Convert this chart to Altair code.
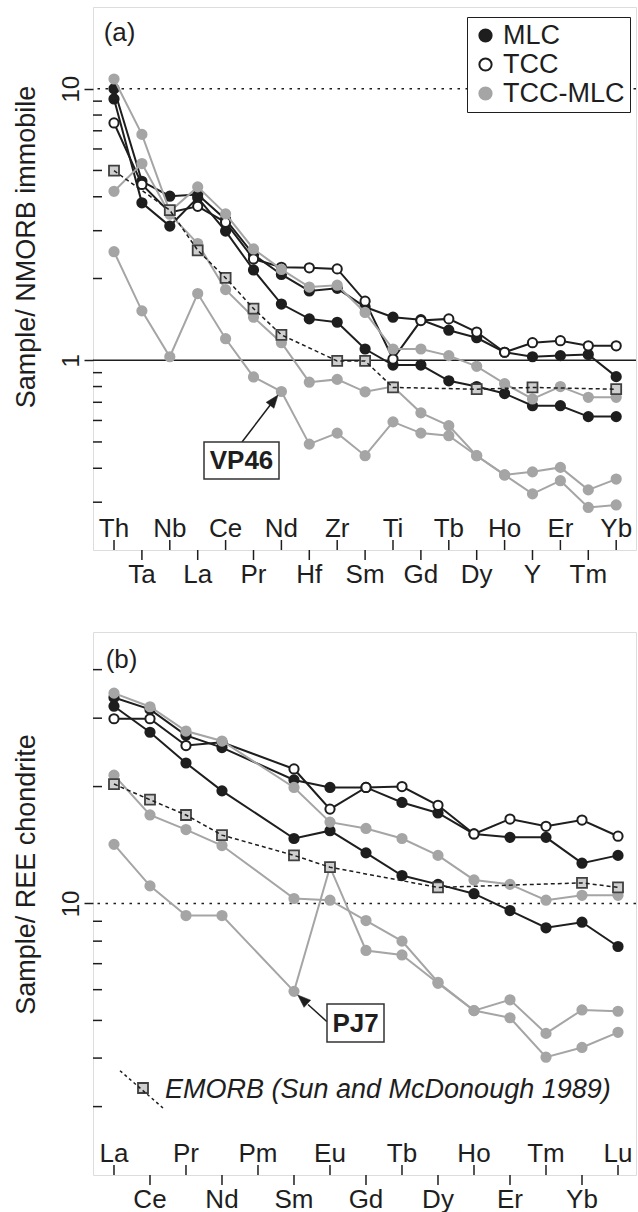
import altair as alt
import pandas as pd

# ---------------- data ----------------
GROUPS = ["MLC", "TCC", "TCC-MLC"]

A_ELEMENTS = ["Th", "Ta", "Nb", "La", "Ce", "Pr", "Nd", "Hf", "Zr", "Sm",
              "Ti", "Gd", "Tb", "Dy", "Ho", "Y", "Er", "Tm", "Yb"]
A_MLC_1 = [10.0, 4.56, 4.02, 4.08, 3.30, 2.45, 2.07, 1.80, 1.84, 1.57,
           1.44, 1.41, 1.29, 1.21, 1.07, 1.03, 1.04, 1.05, 0.87]
A_MLC_2 = [9.17, 3.80, 3.12, 3.97, 2.99, 2.15, 1.61, 1.42, 1.38, 1.10,
           0.96, 0.96, 0.84, 0.80, 0.754, 0.68, 0.68, 0.62, 0.62]
A_TCC_1 = [7.48, 4.44, 3.50, 3.69, 3.22, 2.36, 2.20, 2.19, 2.17, 1.65,
           1.01, 1.40, 1.42, 1.27, 1.07, 1.16, 1.18, 1.13, 1.13]
A_TM_1 = [10.86, 6.79, 3.53, 4.35, 3.46, 2.57, 2.16, 1.86, 1.89, 1.50,
          1.10, 1.10, 1.04, 0.95, 0.82, 0.72, 0.80, 0.73, 0.73]
A_TM_2 = [4.19, 5.30, 3.45, 2.69, 1.82, 1.44, 1.16, 0.83, 0.85, 0.765,
          0.80, 0.64, 0.574, 0.445, 0.378, 0.388, 0.403, 0.333, 0.365]
A_VP46 = [2.51, 1.52, 1.03, 1.76, 1.20, 0.868, 0.767, 0.491, 0.539, 0.445,
          0.593, 0.539, 0.527, 0.445, 0.378, 0.322, 0.360, 0.287, 0.293]
A_EMORB = [4.99, None, 3.57, 2.54, 2.01, 1.55, 1.24, None, 0.994, 0.994,
           0.794, None, None, 0.782, None, 0.794, None, None, 0.782]
A_MAJOR = [1, 10]
A_MINOR = [0.3, 0.4, 0.5, 0.6, 0.7, 0.8, 0.9, 2, 3, 4, 5, 6, 7, 8, 9]

B_ELEMENTS = ["La", "Ce", "Pr", "Nd", "Pm", "Sm", "Eu", "Gd", "Tb", "Dy",
              "Ho", "Er", "Tm", "Yb", "Lu"]
B_MLC_1 = [33.9, 31.6, 27.1, 25.2, None, 20.8, 19.9, 19.9, 18.2, 17.1,
           15.1, 14.8, 14.8, 12.7, 13.3]
B_MLC_2 = [32.2, 27.6, 23.0, 19.5, None, 14.7, 15.4, 13.5, 11.8, 11.2,
           10.6, 9.59, 8.66, 8.95, 7.75]
B_TCC_1 = [29.9, 29.9, 25.5, 26.0, None, 22.2, 17.5, 19.9, 20.0, 17.9,
           15.1, 16.5, 15.8, 16.4, 14.9]
B_TM_1 = [34.8, 32.1, 27.8, 26.2, None, 19.9, 16.2, 15.6, 14.7, 13.3,
          11.5, 11.2, 10.2, 10.5, 10.5]
B_TM_2 = [21.4, 16.9, 15.5, 14.1, None, 10.3, 10.2, 9.04, 8.0, 6.27,
          5.30, 5.65, 4.63, 5.32, 5.28]
B_PJ7 = [14.2, 11.1, 9.31, 9.31, None, 5.94, 12.4, 7.57, 7.37, 6.23,
         5.30, 5.08, 4.02, 4.26, 4.66]
B_EMORB = [20.3, 18.5, 16.9, 15.0, None, 13.3, 12.4, None, None, 11.0,
           None, None, None, 11.3, 11.0]
B_MAJOR = [10]
B_MINOR = [3, 4, 5, 6, 7, 8, 9, 20, 30, 40]

# ---------------- style ----------------
W = 543
H = 543
FONT = "Liberation Sans"
INK = "#1e1e1e"
GREY = "#a5a5a5"
SQFILL = "#cfcfcf"
SQSTROKE = "#404040"
ARROW = "M0,0 L0.75,2 L-0.75,2 Z"
ONE = pd.DataFrame({"k": [0]})


def build_df(elements, series):
    rows = []
    for name, group, vals in series:
        for i, v in enumerate(vals):
            if v is None:
                continue
            rows.append({"series": name, "group": group, "idx": i,
                         "element": elements[i], "value": v})
    return pd.DataFrame(rows)


def panel(elements, series, emorb, xdom, ydom, major, minor, refs,
          ytitle, title_y, legend_on, annos):
    x_enc = alt.X("idx:Q", scale=alt.Scale(domain=xdom, nice=False, zero=False),
                  axis=None)
    yaxis = alt.Axis(values=major, format="d", tickSize=9, tickWidth=1.5,
                     tickColor=INK, labelAngle=270, labelAlign="center",
                     labelBaseline="alphabetic", labelPadding=6, labelFontSize=24,
                     labelFont=FONT, labelColor=INK, domain=False, grid=False,
                     title=ytitle, titleFontSize=27, titleFont=FONT,
                     titleFontWeight="normal", titleAngle=270, titleAlign="center",
                     titleBaseline="alphabetic", titleX=-59, titleY=title_y,
                     titleColor=INK)

    def y_enc():
        return alt.Y("value:Q", scale=alt.Scale(type="log", domain=ydom, nice=False),
                     axis=yaxis)

    layers = []
    layers.append(alt.Chart(pd.DataFrame({"value": minor})).mark_rule(
        color=INK, strokeWidth=1.5).encode(x=alt.value(0), x2=alt.value(9), y=y_enc()))
    for v, dash in refs:
        kw = {"strokeDash": [2.5, 5.5]} if dash else {}
        layers.append(alt.Chart(pd.DataFrame({"value": [v]})).mark_rule(
            color=INK, strokeWidth=1.5, **kw).encode(y=y_enc()))

    tick_df = pd.DataFrame({"idx": list(range(len(elements))), "element": elements,
                            "row": [i % 2 for i in range(len(elements))]})
    inner = tick_df[tick_df.row == 0]
    outer = tick_df[tick_df.row == 1]
    layers.append(alt.Chart(inner).mark_rule(color=INK, strokeWidth=1.5).encode(
        x=x_enc, y=alt.value(H), y2=alt.value(H - 10)))
    layers.append(alt.Chart(outer).mark_rule(color=INK, strokeWidth=1.5).encode(
        x=x_enc, y=alt.value(H), y2=alt.value(H + 10)))
    layers.append(alt.Chart(inner).mark_text(
        baseline="alphabetic", align="center", fontSize=26, font=FONT, color=INK
    ).encode(x=x_enc, y=alt.value(H - 13.5), text="element:N"))
    layers.append(alt.Chart(outer).mark_text(
        baseline="alphabetic", align="center", fontSize=26, font=FONT, color=INK
    ).encode(x=x_enc, y=alt.value(H + 33), text="element:N"))

    df = build_df(elements, series)
    fill_scale = alt.Scale(domain=GROUPS, range=[INK, "white", GREY])
    stroke_scale = alt.Scale(domain=GROUPS, range=[INK, INK, GREY])
    if legend_on:
        leg = alt.Legend(title=None, orient="none", legendX=374, legendY=10,
                         labelFontSize=27, labelFont=FONT, labelColor=INK,
                         symbolSize=150, symbolStrokeWidth=2, symbolType="circle",
                         padding=5, rowPadding=1, labelOffset=4,
                         strokeColor=INK, fillColor="white")
    else:
        leg = None
    for g, col in zip(GROUPS, [INK, INK, GREY]):
        sub = df[df.group == g]
        layers.append(alt.Chart(sub).mark_line(color=col, strokeWidth=2).encode(
            x=x_enc, y=y_enc(), detail="series:N", order="idx:Q"))
        layers.append(alt.Chart(sub).mark_point(
            shape="circle", filled=True, size=85, strokeWidth=2, opacity=1
        ).encode(x=x_enc, y=y_enc(),
                 fill=alt.Fill("group:N", scale=fill_scale, legend=leg),
                 stroke=alt.Stroke("group:N", scale=stroke_scale, legend=leg)))

    em = pd.DataFrame({"idx": list(range(len(elements))), "value": emorb}).dropna()
    layers.append(alt.Chart(em).mark_square(
        size=100, filled=True, fill=SQFILL, stroke=SQSTROKE, strokeWidth=1.8, opacity=1
    ).encode(x=x_enc, y=y_enc()))
    layers.append(alt.Chart(em).mark_line(
        color=INK, strokeWidth=1.5, strokeDash=[4, 3]).encode(x=x_enc, y=y_enc()))

    layers.extend(annos)
    return alt.layer(*layers).properties(width=W, height=H)


def text_at(x, y, txt, size=26, weight="normal", style="normal", align="left"):
    return alt.Chart(ONE).mark_text(
        text=txt, fontSize=size, font=FONT, fontWeight=weight, fontStyle=style,
        align=align, baseline="alphabetic", color=INK
    ).encode(x=alt.value(x), y=alt.value(y))


def box(x1, x2, y1, y2):
    return alt.Chart(ONE).mark_rect(fill="white", stroke="#333333", strokeWidth=1.5).encode(
        x=alt.value(x1), x2=alt.value(x2), y=alt.value(y1), y2=alt.value(y2))


def seg(x1, y1, x2, y2, dash=None):
    kw = {"strokeDash": dash} if dash else {}
    return alt.Chart(ONE).mark_rule(color=INK, strokeWidth=1.5, **kw).encode(
        x=alt.value(x1), y=alt.value(y1), x2=alt.value(x2), y2=alt.value(y2))


def head(x, y, ang):
    return alt.Chart(ONE).mark_point(
        shape=ARROW, filled=True, size=169, angle=ang, fill=INK, stroke=INK,
        strokeWidth=0.5, opacity=1).encode(x=alt.value(x), y=alt.value(y))


annos_a = [
    text_at(10.7, 33.7, "(a)"),
    seg(149, 435, 178, 397),
    head(185, 388, 37.5),
    box(111, 186, 435, 472),
    text_at(148.5, 462.3, "VP46", weight="bold", align="center"),
]
sq_legend = pd.DataFrame({"k": [0]})
annos_b = [
    text_at(12.7, 36.3, "(b)"),
    seg(234, 389.7, 215, 372.5),
    head(204.7, 363, 312.3),
    box(234, 291, 372, 410),
    text_at(262.5, 400.3, "PJ7", weight="bold", align="center"),
    alt.Chart(sq_legend).mark_square(size=100, filled=True, fill=SQFILL, stroke=SQSTROKE,
                                     strokeWidth=1.8, opacity=1).encode(
        x=alt.value(50), y=alt.value(456)),
    seg(27, 438.7, 70, 476, dash=[3, 3]),
    text_at(72, 466.3, "EMORB (Sun and McDonough 1989)", size=27, style="italic"),
]

series_a = [("A_MLC_1", "MLC", A_MLC_1), ("A_MLC_2", "MLC", A_MLC_2),
            ("A_TCC_1", "TCC", A_TCC_1),
            ("A_TM_1", "TCC-MLC", A_TM_1), ("A_TM_2", "TCC-MLC", A_TM_2),
            ("A_VP46", "TCC-MLC", A_VP46)]
series_b = [("B_MLC_1", "MLC", B_MLC_1), ("B_MLC_2", "MLC", B_MLC_2),
            ("B_TCC_1", "TCC", B_TCC_1),
            ("B_TM_1", "TCC-MLC", B_TM_1), ("B_TM_2", "TCC-MLC", B_TM_2),
            ("B_PJ7", "TCC-MLC", B_PJ7)]

pa = panel(A_ELEMENTS, series_a, A_EMORB, [-0.753, 18.71], [0.2, 20], A_MAJOR, A_MINOR,
           [(10, True), (1, False)], "Sample/ NMORB immobile", 239.5, True, annos_a)
pb = panel(B_ELEMENTS, series_b, B_EMORB, [-0.583, 14.5], [2, 50], B_MAJOR, B_MINOR,
           [(10, True)], "Sample/ REE chondrite", 242, False, annos_b)

chart = alt.vconcat(pa, pb, spacing=82, bounds="flush").resolve_scale(
    fill="independent", stroke="independent"
).properties(
    padding={"left": 11, "top": 6, "right": 0, "bottom": 0}
).configure_view(stroke=INK, strokeWidth=1.5).configure(font=FONT, background="white")

chart.save("out.html", embed_options={"renderer": "svg", "actions": False})
